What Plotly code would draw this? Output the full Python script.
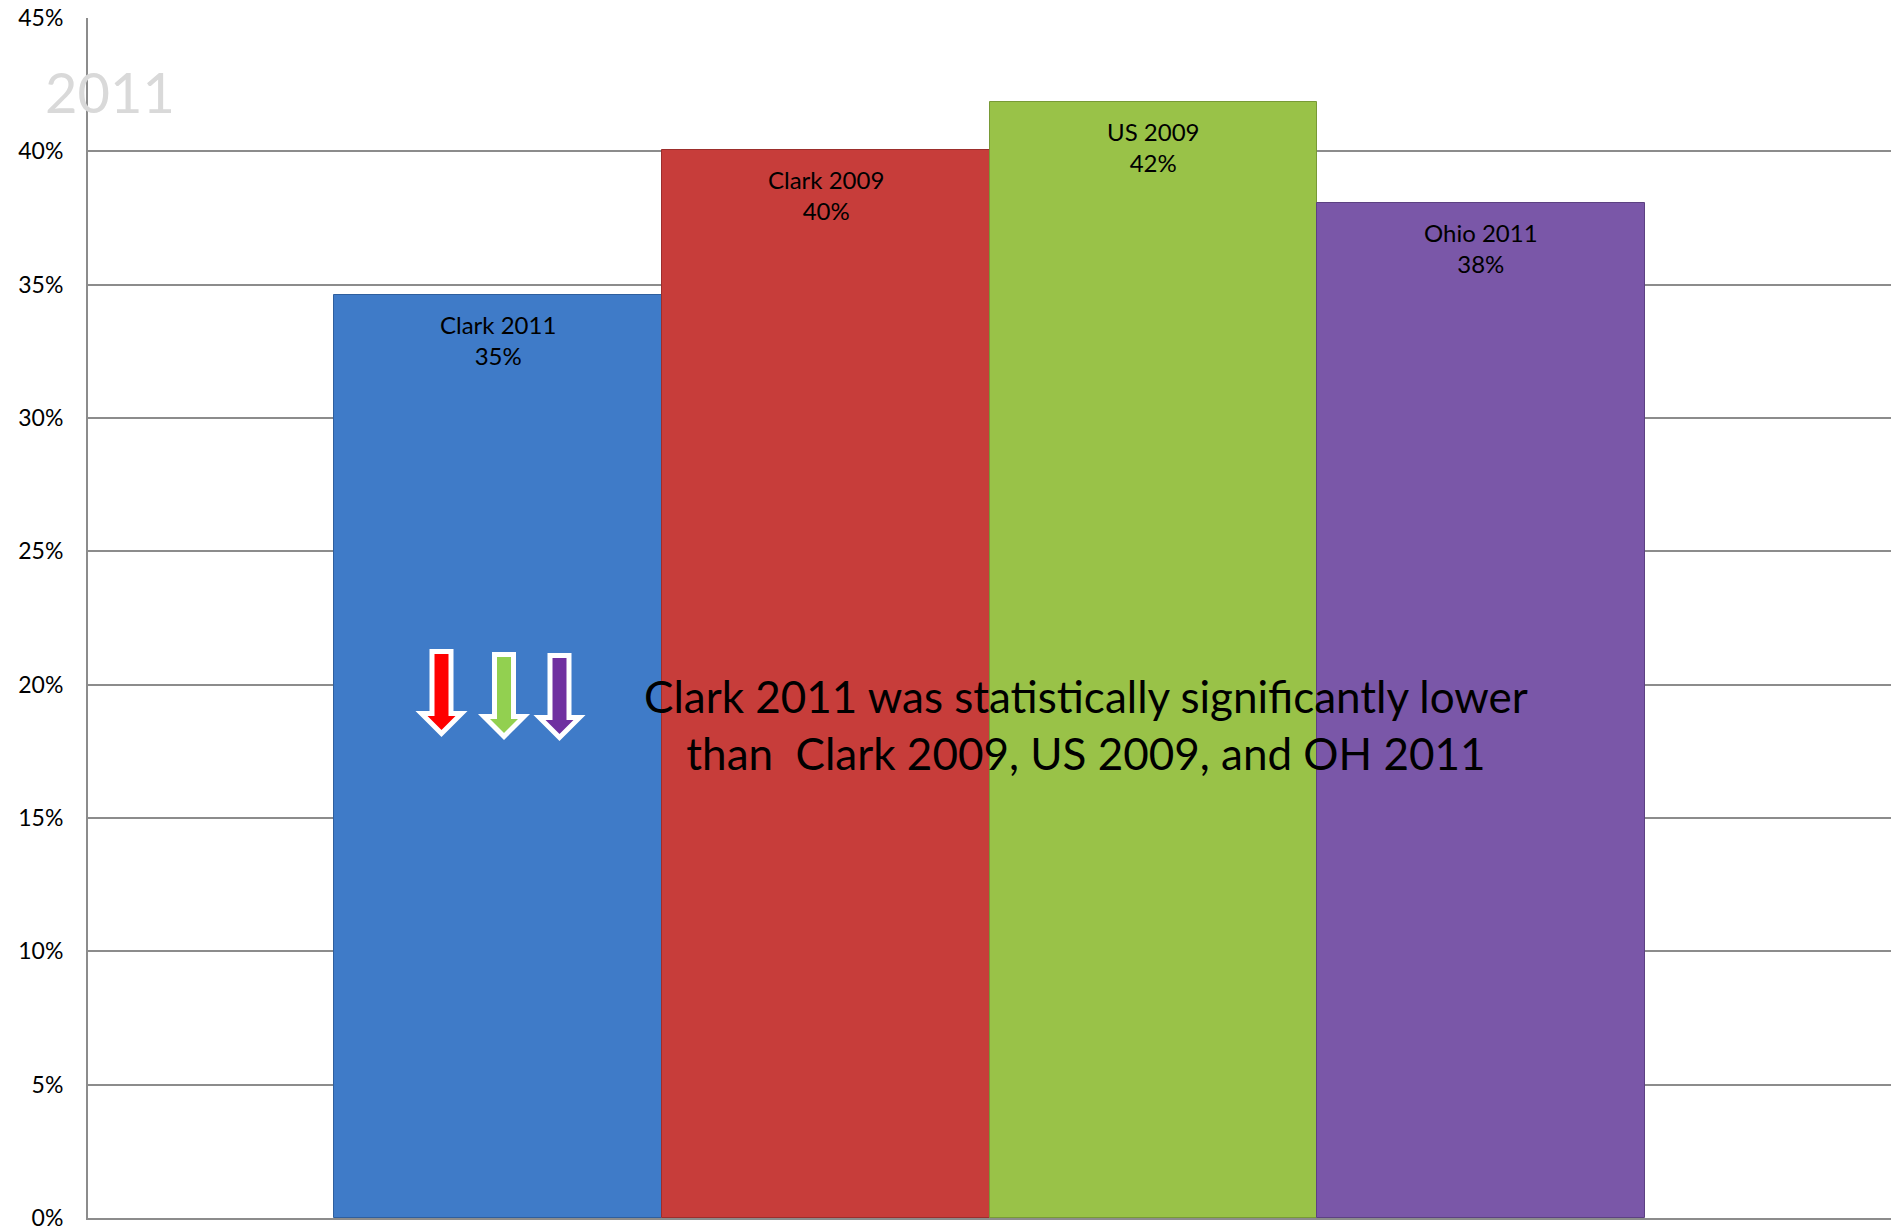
import plotly.graph_objects as go

# ---- data ----
categories = ["Clark 2011", "Clark 2009", "US 2009", "Ohio 2011"]
values = [34.6, 40.05, 41.84, 38.05]
value_labels = ["35%", "40%", "42%", "38%"]
bar_colors = ["#3f7bc8", "#c73d3a", "#99c248", "#7a57a8"]
edge_colors = ["#2f5f9e", "#9c2e2c", "#789a36", "#5c4182"]
y_ticks = [0, 5, 10, 15, 20, 25, 30, 35, 40, 45]
y_tick_labels = ["0%", "5%", "10%", "15%", "20%", "25%", "30%", "35%", "40%", "45%"]
note_text = "Clark 2011 was statistically significantly lower<br>than  Clark 2009, US 2009, and OH 2011"
watermark = "2011"
arrow_colors = ["#ff0000", "#92d050", "#7030a0"]

FONT = "Lato"
PL, PT, PW, PH = 88, 18, 1803, 1200   # target plot area in page pixels
W, H = 1892, 1229


def px_x(px):
    return (px - PL) / PW


def px_y(py):
    return (PT + PH - py) / PH


fig = go.Figure()
fig.add_trace(go.Bar(
    x=categories, y=values,
    marker=dict(color=bar_colors, line=dict(color=edge_colors, width=1)),
    width=1.0, hoverinfo="skip", showlegend=False,
))

# bar labels inside top
for c, v, lab in zip(categories, values, value_labels):
    fig.add_annotation(x=c, y=v, xref="x", yref="y", text=f"{c}<br>{lab}",
                       showarrow=False, xanchor="center", yanchor="top", yshift=-13,
                       font=dict(family=FONT, size=24, color="#000000"))

# watermark
fig.add_annotation(x=px_x(110), y=px_y(92), xref="paper", yref="paper",
                   xanchor="center", yanchor="middle",
                   text=watermark, showarrow=False,
                   font=dict(family=FONT, size=56, color="#d9d9d9"))

# main note
fig.add_annotation(x=px_x(1086), y=px_y(725), xref="paper", yref="paper",
                   xanchor="center", yanchor="middle",
                   text=note_text, showarrow=False, align="center",
                   font=dict(family=FONT, size=44, color="#000000"))

# arrows (decorative shapes in pixel units)
arrow_pos = [(441.5, 651.5), (504, 654.5), (559.5, 655.5)]
path = "M -9.5 0 L 9.5 0 L 9.5 -62 L 20 -62 L 0 -82 L -20 -62 L -9.5 -62 Z"
for (px, py), col in zip(arrow_pos, arrow_colors):
    fig.add_shape(type="path", xref="paper", yref="paper",
                  xsizemode="pixel", ysizemode="pixel",
                  xanchor=px_x(px), yanchor=px_y(py),
                  path=path, fillcolor=col, line=dict(color="white", width=5),
                  layer="above")

fig.update_layout(
    width=W, height=H,
    margin=dict(l=PL, r=W - PL - PW, t=PT, b=H - PT - PH),
    paper_bgcolor="white", plot_bgcolor="white",
    bargap=0,
    xaxis=dict(range=[-1.25, 4.25], showticklabels=False, showgrid=False, automargin=False,
               showline=True, linecolor="#8c8c8c", linewidth=2, zeroline=False, ticks=""),
    yaxis=dict(range=[0, 45], tickvals=y_ticks, ticktext=y_tick_labels, automargin=False,
               showgrid=True, gridcolor="#8c8c8c", gridwidth=1.5,
               showline=True, linecolor="#8c8c8c", linewidth=2, zeroline=False,
               ticklabelstandoff=18, ticklabeloverflow="allow",
               tickfont=dict(family=FONT, size=23, color="#000000")),
)

fig.write_html("out.html", config={"displayModeBar": False},
               post_script="document.body.style.margin='0px';document.body.style.overflow='hidden';")
